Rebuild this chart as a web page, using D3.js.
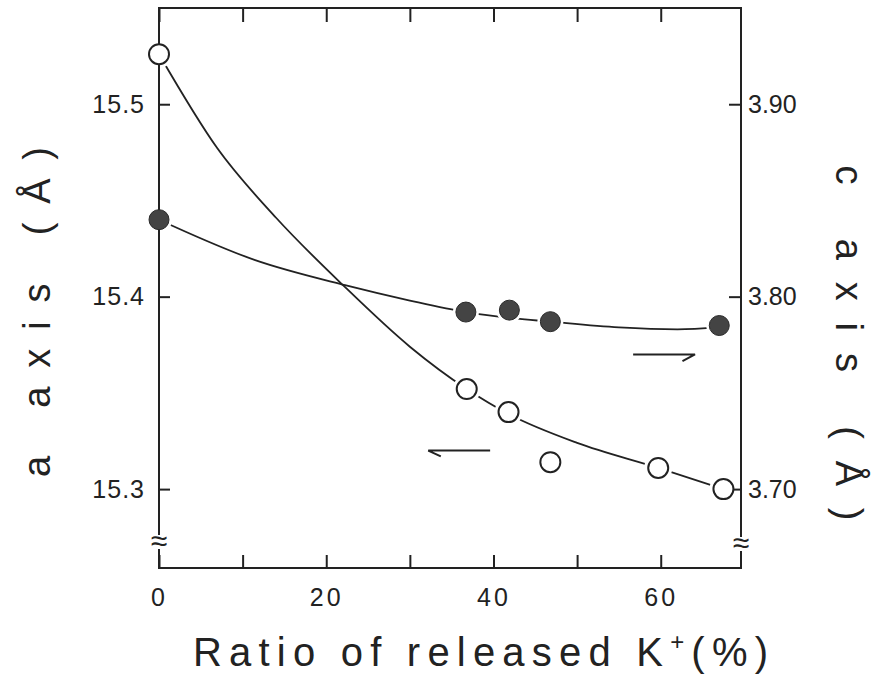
<!DOCTYPE html>
<html>
<head>
<meta charset="utf-8">
<script src="https://cdn.jsdelivr.net/npm/d3@7"></script>
<style>
  body { margin: 0; background: #fff; }
  text { font-family: "Liberation Sans", Arial, sans-serif; fill: #222; }
</style>
</head>
<body>
<div id="chart"></div>
<script>
// released K+ (%) and lattice constants
var openX = [0, 36.8, 41.8, 46.8, 59.7, 67.5];
var openA = [15.526, 15.352, 15.340, 15.314, 15.311, 15.300];
var fillX = [0, 36.7, 41.9, 46.8, 67.0];
var fillC = [3.840, 3.792, 3.793, 3.787, 3.785];

// hand drawn fit curves
var fitAX = [0, 7, 14, 22, 30, 36.8, 41.8, 50, 59.7, 67.5];
var fitAY = [15.526, 15.477, 15.441, 15.406, 15.374, 15.352, 15.339, 15.324, 15.311, 15.300];
var fitCX = [0, 11.5, 22.25, 30, 36.7, 41.9, 46.8, 55, 62, 67];
var fitCY = [3.840, 3.819, 3.806, 3.798, 3.792, 3.789, 3.787, 3.784, 3.783, 3.784];

var xTicks = [0, 10, 20, 30, 40, 50, 60];
var aTicks = [15.3, 15.4, 15.5];
var cTicks = [3.70, 3.80, 3.90];

var w = 890, h = 679;
var pl = 159, pr = 741, pt = 8, pb = 568;

var svg = d3.select("#chart").append("svg")
    .attr("width", w)
    .attr("height", h);

var x = d3.scaleLinear().domain([0, 69.6]).range([pl, pr]);
var ya = d3.scaleLinear().domain([15.259, 15.550]).range([pb, pt]);
var yc = d3.scaleLinear().domain([3.659, 3.950]).range([pb, pt]);

var line = function(xs, ys, yscale) {
    var pts = xs.map(function(d, i) { return [d, ys[i]]; });
    return d3.line()
        .x(function(d) { return x(d[0]); })
        .y(function(d) { return yscale(d[1]); })
        .curve(d3.curveMonotoneX)(pts);
};

svg.append("path")
    .attr("d", line(fitAX, fitAY, ya))
    .attr("fill", "none").attr("stroke", "#222").attr("stroke-width", 1.8);
svg.append("path")
    .attr("d", line(fitCX, fitCY, yc))
    .attr("fill", "none").attr("stroke", "#222").attr("stroke-width", 1.8);

// white halos so the curves stop short of the symbols
svg.selectAll("circle.haloA").data(openX).enter().append("circle")
    .attr("cx", function(d) { return x(d); })
    .attr("cy", function(d, i) { return ya(openA[i]); })
    .attr("r", 14).attr("fill", "#fff");
svg.selectAll("circle.haloC").data(fillX).enter().append("circle")
    .attr("cx", function(d) { return x(d); })
    .attr("cy", function(d, i) { return yc(fillC[i]); })
    .attr("r", 13).attr("fill", "#fff");

// frame
svg.append("rect")
    .attr("x", pl).attr("y", pt)
    .attr("width", pr - pl).attr("height", pb - pt)
    .attr("fill", "none").attr("stroke", "#222").attr("stroke-width", 2);

var strip = function(g) {
    g.select(".domain").remove();
    g.selectAll("line").attr("stroke", "#222").attr("stroke-width", 2);
    g.selectAll("text").attr("font-size", 25).attr("fill", "#333")
        .attr("font-family", "Liberation Sans, Arial, sans-serif");
};

svg.append("g")
    .attr("transform", "translate(0," + pb + ")")
    .call(d3.axisBottom(x).tickValues(xTicks).tickSize(-13).tickPadding(20)
        .tickFormat(function(d) { return d % 20 === 0 ? d : ""; }))
    .call(strip)
    .selectAll("text").attr("letter-spacing", 3);

svg.append("g")
    .attr("transform", "translate(0," + pt + ")")
    .call(d3.axisTop(x).tickValues(xTicks).tickSize(-14).tickFormat(""))
    .call(strip);

svg.append("g")
    .attr("transform", "translate(" + pl + ",0)")
    .call(d3.axisLeft(ya).tickValues(aTicks).tickSize(-11).tickPadding(14)
        .tickFormat(d3.format(".1f")))
    .call(strip)
    .selectAll("text").attr("letter-spacing", 1);

svg.append("g")
    .attr("transform", "translate(" + pr + ",0)")
    .call(d3.axisRight(yc).tickValues(cTicks).tickSize(-12).tickPadding(7)
        .tickFormat(d3.format(".2f")))
    .call(strip);

// axis breaks
[[pl, 542], [pr, 544]].forEach(function(b) {
    svg.append("rect")
        .attr("x", b[0] - 9).attr("y", b[1] - 7)
        .attr("width", 18).attr("height", 14)
        .attr("fill", "#fff");
    svg.append("text")
        .attr("x", b[0]).attr("y", b[1] + 9)
        .attr("text-anchor", "middle")
        .attr("font-size", 30)
        .text("\u2248");
});

// symbols
svg.selectAll("circle.open").data(openX).enter().append("circle")
    .attr("cx", function(d) { return x(d); })
    .attr("cy", function(d, i) { return ya(openA[i]); })
    .attr("r", 10)
    .attr("fill", "#fff").attr("stroke", "#222").attr("stroke-width", 2);
svg.selectAll("circle.filled").data(fillX).enter().append("circle")
    .attr("cx", function(d) { return x(d); })
    .attr("cy", function(d, i) { return yc(fillC[i]); })
    .attr("r", 10)
    .attr("fill", "#444").attr("stroke", "#2a2a2a").attr("stroke-width", 1);

// arrows telling which axis each curve belongs to
var arrows = [
    { from: [39.6, 15.320], to: [32.2, 15.320], barb: [33.7, 15.317] },
    { from: [56.7, 15.370], to: [64.1, 15.370], barb: [62.6, 15.3665] }
];
arrows.forEach(function(a) {
    svg.append("path")
        .attr("d", "M" + x(a.from[0]) + "," + ya(a.from[1]) +
                   "L" + x(a.to[0]) + "," + ya(a.to[1]) +
                   "L" + x(a.barb[0]) + "," + ya(a.barb[1]))
        .attr("fill", "none").attr("stroke", "#222").attr("stroke-width", 2);
});

// titles
var xt = svg.append("text")
    .attr("x", 193).attr("y", 666)
    .attr("font-size", 40).attr("fill", "#333")
    .attr("textLength", 575).attr("lengthAdjust", "spacing");
xt.append("tspan").text("Ratio of released K");
xt.append("tspan").attr("font-size", 24).attr("dy", -16).text("+");
xt.append("tspan").attr("dy", 16).text("(%)");

svg.append("text")
    .attr("transform", "translate(50,312) rotate(-90)")
    .attr("text-anchor", "middle")
    .attr("font-size", 38).attr("fill", "#333")
    .attr("textLength", 330).attr("lengthAdjust", "spacing")
    .text("a axis (\u00c5)");

svg.append("text")
    .attr("transform", "translate(836,343) rotate(90)")
    .attr("text-anchor", "middle")
    .attr("font-size", 38).attr("fill", "#333")
    .attr("textLength", 355).attr("lengthAdjust", "spacing")
    .text("c axis (\u00c5)");
</script>
</body>
</html>
